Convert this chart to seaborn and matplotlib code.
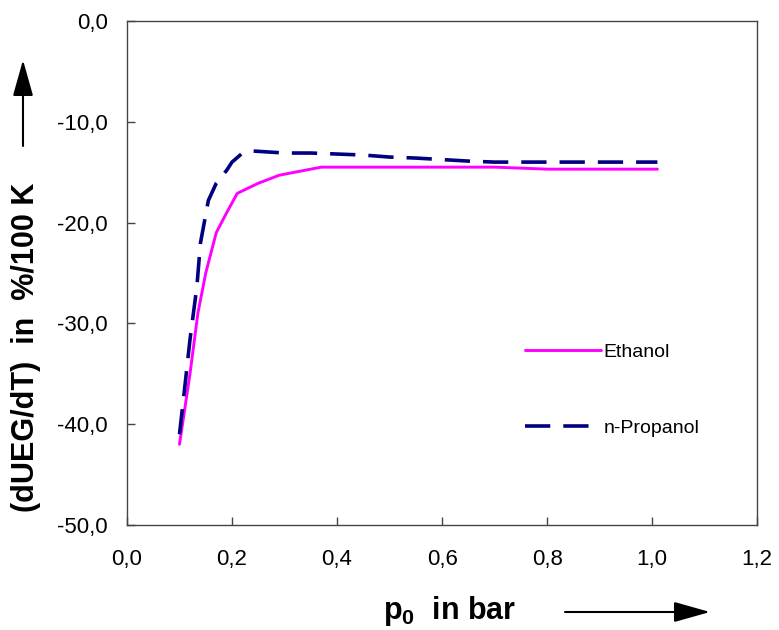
import matplotlib
matplotlib.use("Agg")
import matplotlib.pyplot as plt
from matplotlib.ticker import FuncFormatter
import numpy as np
import pandas as pd
import seaborn as sns

# Temperature coefficient of the lower explosion limit vs. initial pressure
p_ethanol = [0.10, 0.12, 0.135, 0.15, 0.17, 0.19, 0.21, 0.25, 0.29, 0.33,
             0.37, 0.50, 0.60, 0.70, 0.80, 0.90, 1.01]
d_ethanol = [-42.0, -35.0, -29.0, -25.0, -21.0, -19.0, -17.1, -16.1, -15.3, -14.9,
             -14.5, -14.5, -14.5, -14.5, -14.7, -14.7, -14.7]

p_propanol = [0.10, 0.108, 0.12, 0.133, 0.14, 0.155, 0.17, 0.19, 0.20, 0.22,
              0.24, 0.27, 0.30, 0.35, 0.40, 0.45, 0.50, 0.55, 0.60, 0.65,
              0.70, 0.80, 0.90, 1.01]
d_propanol = [-41.0, -37.3, -31.6, -26.4, -22.0, -17.8, -16.1, -14.8, -14.0, -13.1,
              -12.9, -13.0, -13.1, -13.1, -13.2, -13.3, -13.5, -13.6, -13.75, -13.9,
              -14.0, -14.0, -14.0, -14.0]

x_ticks = [0.0, 0.2, 0.4, 0.6, 0.8, 1.0, 1.2]
y_ticks = [0.0, -10.0, -20.0, -30.0, -40.0, -50.0]

sns.set_theme(style="white")
plt.rcParams["font.family"] = ["Liberation Sans", "DejaVu Sans"]
plt.rcParams["text.color"] = "black"
plt.rcParams["mathtext.fontset"] = "custom"
plt.rcParams["mathtext.rm"] = "Liberation Sans"
plt.rcParams["mathtext.bf"] = "Liberation Sans:bold"

df = pd.concat([
    pd.DataFrame({"p0": p_ethanol, "dUEG": d_ethanol, "Stoff": "Ethanol"}),
    pd.DataFrame({"p0": p_propanol, "dUEG": d_propanol, "Stoff": "n-Propanol"}),
], ignore_index=True)

fig = plt.figure(figsize=(7.79, 6.30), dpi=100)
ax = fig.add_axes([0.163, 0.1667, 0.809, 0.8000])

sns.lineplot(data=df[df.Stoff == "Ethanol"], x="p0", y="dUEG", ax=ax,
             color="#FF00FF", lw=2.1, estimator=None, sort=False, label="Ethanol")
sns.lineplot(data=df[df.Stoff == "n-Propanol"], x="p0", y="dUEG", ax=ax,
             color="#000080", lw=2.6, estimator=None, sort=False, label="n-Propanol",
             linestyle=(0, (7.0, 3.6)))

ax.set_xlim(0, 1.2)
ax.set_ylim(-50, 0)
ax.set_xticks(x_ticks)
ax.set_yticks(y_ticks)
fmt = FuncFormatter(lambda v, _: f"{v:.1f}".replace(".", ",").replace("-0,0", "0,0"))
ax.xaxis.set_major_formatter(fmt)
ax.yaxis.set_major_formatter(fmt)
ax.tick_params(axis="both", which="major", direction="in", length=6, width=1,
               color="#444444", labelsize=16, labelcolor="black",
               bottom=True, left=True, top=False, right=False)
ax.tick_params(axis="x", pad=17)
ax.tick_params(axis="y", pad=14)
for s in ax.spines.values():
    s.set_color("#444444")
    s.set_linewidth(1.0)
ax.set_xlabel("")
ax.set_ylabel("")

leg = ax.legend(loc="center left", bbox_to_anchor=(0.632, 0.268), frameon=False,
                fontsize=14, handlelength=3.9, handletextpad=0.12,
                labelspacing=3.0, borderpad=0, borderaxespad=0)
for t in leg.get_texts():
    t.set_color("black")

# axis titles with direction arrows
fig.text(450 / 779, 1 - 611 / 630, r"$\mathbf{p_0}$  in bar", fontsize=22,
         fontweight="bold", ha="center", va="center", color="black")
fig.text(26 / 779, 1 - 347 / 630, "(dUEG/dT)  in  %/100 K", fontsize=22,
         fontweight="bold", ha="center", va="center", rotation=90, color="black")
fig.patches.append(matplotlib.patches.FancyArrowPatch(
    (565 / 779, 1 - 612 / 630), (710 / 779, 1 - 612 / 630),
    transform=fig.transFigure, arrowstyle="-|>,head_length=1.6,head_width=0.45",
    mutation_scale=14, color="black", lw=1.5, shrinkA=0, shrinkB=0))
fig.patches.append(matplotlib.patches.FancyArrowPatch(
    (23 / 779, 1 - 146 / 630), (23 / 779, 1 - 60 / 630),
    transform=fig.transFigure, arrowstyle="-|>,head_length=1.6,head_width=0.45",
    mutation_scale=14, color="black", lw=1.5, shrinkA=0, shrinkB=0))

fig.savefig("out.png", dpi=100, facecolor="white")
